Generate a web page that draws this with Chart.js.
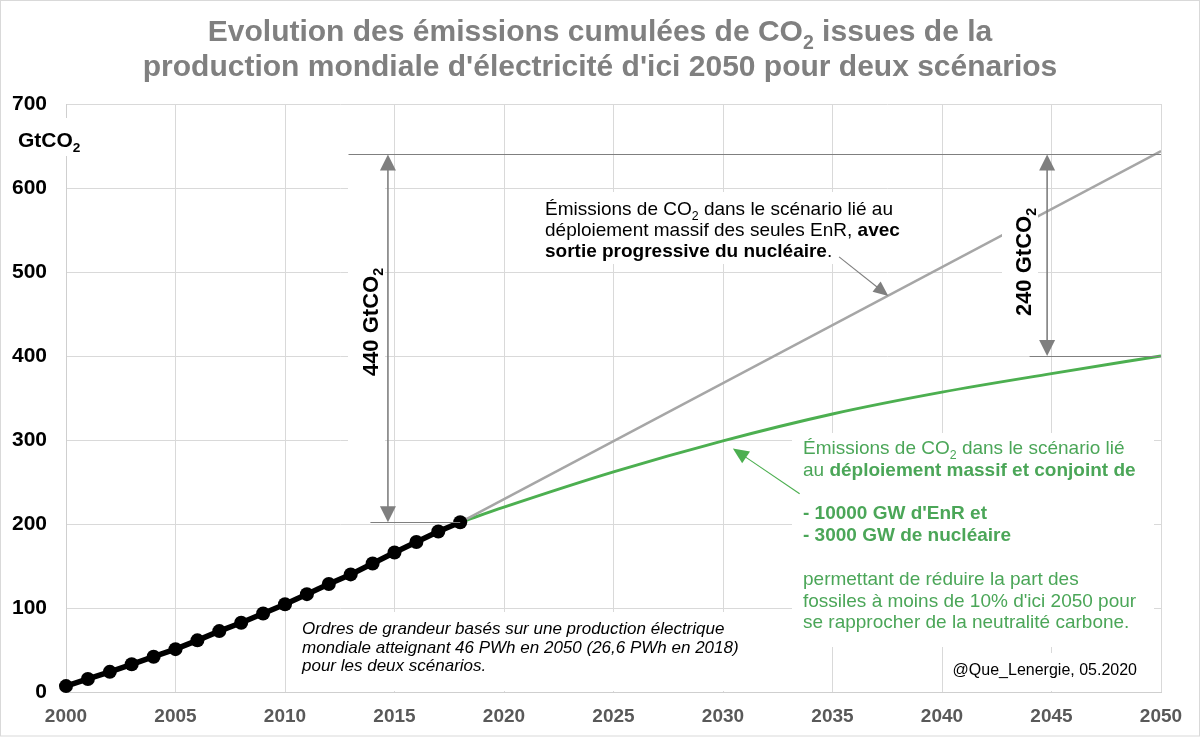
<!DOCTYPE html>
<html><head><meta charset="utf-8">
<script src="https://cdn.jsdelivr.net/npm/chart.js@4/dist/chart.umd.min.js"></script>
<style>html,body{margin:0;padding:0;background:#fff;overflow:hidden}canvas{display:block}</style>
</head><body>
<canvas id="c" width="1200" height="737"></canvas>
<script>
// ---------- DATA ----------
const histYears  = [2000,2001,2002,2003,2004,2005,2006,2007,2008,2009,2010,2011,2012,2013,2014,2015,2016,2017,2018];
const histValues = [7,15.5,24,33,42,51,61.5,72.5,82.5,93.5,104.5,116.5,128.5,140,153,166,178.5,191,202];
const enrYears   = [2018,2050];
const enrValues  = [202,644];
const mixYears   = [2018,2020,2025,2030,2035,2040,2045,2050];
const mixValues  = [202,220,262,299,331,357,379,400];
const xTickRange = [2000,2050,5];
const yTickRange = [0,700,100];
const titleLines = [
  "Evolution des émissions cumulées de CO~2~ issues de la",
  "production mondiale d'électricité d'ici 2050 pour deux scénarios"
];
const yAxisTitle = "GtCO~2~";
const grayNote = [
  "Émissions de CO~2~ dans le scénario lié au",
  "déploiement massif des seules EnR, **avec**",
  "**sortie progressive du nucléaire**."
];
const greenNote = [
  "Émissions de CO~2~ dans le scénario lié",
  "au **déploiement massif et conjoint de**",
  "",
  "**- 10000 GW d'EnR et**",
  "**- 3000 GW de nucléaire**",
  "",
  "permettant de réduire la part des",
  "fossiles à moins de 10% d'ici 2050 pour",
  "se rapprocher de la neutralité carbone."
];
const italicNote = [
  "Ordres de grandeur basés sur une production électrique",
  "mondiale atteignant 46 PWh en 2050 (26,6 PWh en 2018)",
  "pour les deux scénarios."
];
const credit = "@Que_Lenergie, 05.2020";
const gapLabelBig = "440 GtCO~2~";
const gapLabelSmall = "240 GtCO~2~";
// annotation anchors (data units)
const refTop = 640, refHist = 202, refMix = 400;

// ---------- helpers ----------
const F = '"Liberation Sans", Arial, Helvetica, sans-serif';
function fnt(size,b,i){return (i?'italic ':'')+(b?'bold ':'')+size+'px '+F;}
function parse(str, baseB, baseI){
  const segs=[]; let b=!!baseB; let buf=''; let i=0;
  while(i<str.length){
    if(str.startsWith('**',i)){ if(buf){segs.push({t:buf,b,i:baseI});buf='';} b=!b; i+=2; continue; }
    if(str[i]==='~'){ const j=str.indexOf('~',i+1); if(buf){segs.push({t:buf,b,i:baseI});buf='';}
      segs.push({t:str.slice(i+1,j),b,i:baseI,sub:true}); i=j+1; continue; }
    buf+=str[i]; i++;
  }
  if(buf) segs.push({t:buf,b,i:baseI});
  return segs;
}
function richW(ctx,segs,size){let w=0;for(const s of segs){ctx.font=fnt(s.sub?size*0.65:size,s.b,s.i);w+=ctx.measureText(s.t).width;}return w;}
function drawRich(ctx,x,y,str,size,color,align,baseB,baseI){
  const segs=parse(str,baseB,baseI); const w=richW(ctx,segs,size);
  let cx = align==='center'? x-w/2 : (align==='right'? x-w : x);
  ctx.fillStyle=color; ctx.textAlign='left'; ctx.textBaseline='alphabetic';
  for(const s of segs){ const sz=s.sub?size*0.65:size; ctx.font=fnt(sz,s.b,s.i);
    ctx.fillText(s.t,cx,s.sub?y+size*0.25:y); cx+=ctx.measureText(s.t).width; }
  return w;
}
function head(ctx,x,y,ang,len,wid,color){
  ctx.save(); ctx.translate(x,y); ctx.rotate(ang); ctx.fillStyle=color;
  ctx.beginPath(); ctx.moveTo(0,0); ctx.lineTo(-len,-wid/2); ctx.lineTo(-len,wid/2); ctx.closePath(); ctx.fill(); ctx.restore();
}
function arrow(ctx,x1,y1,x2,y2,color,lw,len,wid,both){
  const ang=Math.atan2(y2-y1,x2-x1);
  ctx.save(); ctx.strokeStyle=color; ctx.lineWidth=lw; ctx.beginPath();
  ctx.moveTo(x1+(both?Math.cos(ang)*len*0.8:0),y1+(both?Math.sin(ang)*len*0.8:0));
  ctx.lineTo(x2-Math.cos(ang)*len*0.8,y2-Math.sin(ang)*len*0.8); ctx.stroke(); ctx.restore();
  head(ctx,x2,y2,ang,len,wid,color);
  if(both) head(ctx,x1,y1,ang+Math.PI,len,wid,color);
}
function hline(ctx,x1,x2,y,color,lw){ctx.save();ctx.strokeStyle=color;ctx.lineWidth=lw;ctx.beginPath();ctx.moveTo(x1,Math.round(y)+0.5);ctx.lineTo(x2,Math.round(y)+0.5);ctx.stroke();ctx.restore();}
function white(ctx,x,y,w,h){ctx.save();ctx.fillStyle='#fff';ctx.fillRect(x,y,w,h);ctx.restore();}
function rotLabel(ctx,cx,cy,str,size){
  ctx.save(); ctx.translate(cx,cy); ctx.rotate(-Math.PI/2);
  drawRich(ctx,0,size*0.36,str,size,'#000','center',true,false); ctx.restore();
}

const GRAY='#7f7f7f', GREEN_TXT='#4ba658';

const annot = {
  id:'annot',
  beforeDraw(chart){ const c=chart.ctx; c.save(); c.fillStyle='#fff'; c.fillRect(0,0,chart.width,chart.height); c.restore(); },
  beforeDatasetsDraw(chart){
    const c=chart.ctx;
    white(c,290,612,455,79);
    white(c,792,433,362,214);
    white(c,538,192,380,72);
    white(c,948,653,195,38);
    white(c,348,178,37,275);
  },
  afterDatasetsDraw(chart){
    const c=chart.ctx, xs=chart.scales.x, ys=chart.scales.y;
    const X=v=>xs.getPixelForValue(v), Y=v=>ys.getPixelForValue(v);
    white(c,1002,198,36,128);
    hline(c,X(2012.9),X(2050),Y(refTop),GRAY,1.2);
    hline(c,X(2013.9),X(2018),Y(refHist),GRAY,1.2);
    hline(c,X(2044),X(2050),Y(refMix),GRAY,1.2);
    arrow(c,X(2014.7),Y(refHist),X(2014.7),Y(refTop),GRAY,1.6,16,16,true);
    arrow(c,X(2044.8),Y(refMix),X(2044.8),Y(refTop),GRAY,1.6,16,16,true);
    arrow(c,X(2035.3),Y(518),X(2037.55),Y(471.5),GRAY,1.1,15,13,false);
    arrow(c,X(2033.5),Y(236),X(2030.45),Y(290),'#4caf50',1.1,16,14,false);
    rotLabel(c,370,322,gapLabelBig,22);
    rotLabel(c,1023,262,gapLabelSmall,22);
  },
  afterDraw(chart){
    const c=chart.ctx;
    drawRich(c,600,41,titleLines[0],30,'#808080','center',true,false);
    drawRich(c,600,76,titleLines[1],30,'#808080','center',true,false);
    white(c,10,118,76,38);
    drawRich(c,18,147,yAxisTitle,21,'#000','left',true,false);
    grayNote.forEach((l,i)=>drawRich(c,545,215+i*21,l,19,'#000','left',false,false));
    greenNote.forEach((l,i)=>{ if(l) drawRich(c,803,454+i*21.8,l,19,GREEN_TXT,'left',false,false); });
    italicNote.forEach((l,i)=>drawRich(c,302,634+i*18.5,l,17,'#000','left',false,true));
    drawRich(c,1137,675,credit,16,'#000','right',false,false);
    c.save(); c.strokeStyle='#d9d9d9'; c.lineWidth=1; c.strokeRect(0.5,0.5,1199,735.5); c.restore();
  }
};

const pts=(xsA,ysA)=>xsA.map((x,i)=>({x,y:ysA[i]}));

new Chart(document.getElementById('c').getContext('2d'), {
  type:'line',
  data:{ datasets:[
    {label:'Historique', data:pts(histYears,histValues), borderColor:'#000', backgroundColor:'#000',
      borderWidth:5.5, pointRadius:7, pointBackgroundColor:'#000', pointBorderWidth:0, tension:0, clip:false},
    {label:'EnR seules', data:pts(enrYears,enrValues), borderColor:'#a6a6a6', borderWidth:2.5, pointRadius:0, tension:0},
    {label:'EnR + nucléaire', data:pts(mixYears,mixValues), borderColor:'#4caf50', borderWidth:3, pointRadius:0,
      cubicInterpolationMode:'monotone'}
  ]},
  options:{
    responsive:false, animation:false, devicePixelRatio:1,
    layout:{padding:{top:104,right:39,left:0,bottom:0}},
    plugins:{legend:{display:false}, tooltip:{enabled:false}, title:{display:false}},
    scales:{
      x:{type:'linear', min:xTickRange[0], max:xTickRange[1],
        afterFit(s){s.height=45;},
        ticks:{stepSize:xTickRange[2], callback:v=>String(v), color:'#595959', font:{family:F,size:19,weight:'bold'},
          padding:13, maxRotation:0, autoSkip:false},
        grid:{color:'#d9d9d9', drawTicks:false}, border:{color:'#cfcfcf'}},
      y:{type:'linear', min:yTickRange[0], max:yTickRange[1],
        afterFit(s){s.width=66;},
        ticks:{stepSize:yTickRange[2], color:'#000', font:{family:F,size:21,weight:'bold'}, padding:19},
        grid:{color:'#d9d9d9', drawTicks:false}, border:{color:'#cfcfcf'}}
    }
  },
  plugins:[annot]
});
</script>
</body></html>
